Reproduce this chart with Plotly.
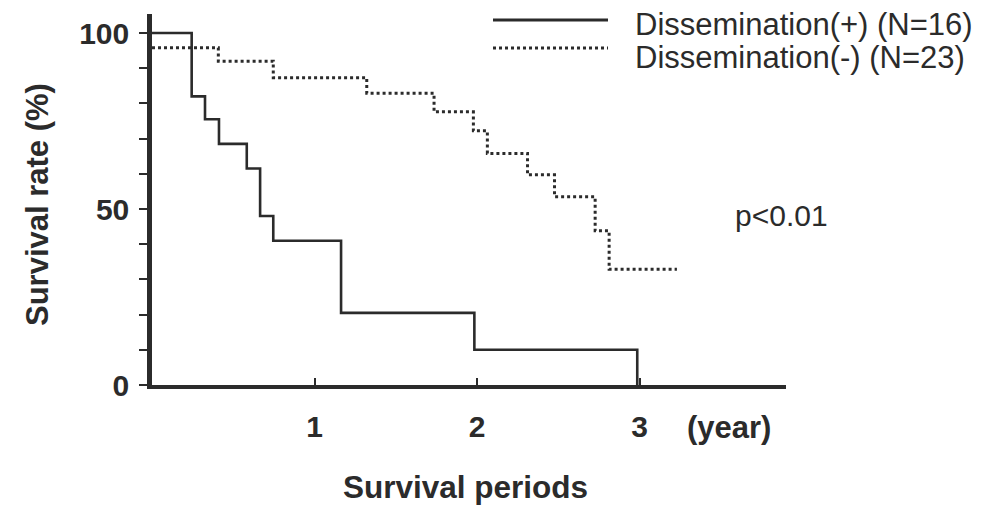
import plotly.graph_objects as go

# Kaplan-Meier survival estimates (years, % surviving)
pos_times = [0, 0.244, 0.326, 0.412, 0.583, 0.665, 0.746, 1.163, 1.983, 2.985]
pos_surv = [100, 82, 75.5, 68.5, 61.5, 48, 41, 20.5, 10, 0]

neg_times = [0, 0.408, 0.746, 1.321, 1.735, 1.977, 2.063, 2.31, 2.476, 2.726, 2.812, 3.229]
neg_surv = [95.8, 92, 87.3, 82.9, 77.6, 72.2, 65.8, 59.7, 53.5, 43.8, 32.9, 32.9]

series_names = ["Dissemination(+) (N=16)", "Dissemination(-) (N=23)"]

x_ticks = [1, 2, 3]
y_ticks = list(range(0, 101, 10))
y_labels = ["0" if v == 0 else "50" if v == 50 else "100" if v == 100 else "" for v in y_ticks]

INK = "#2b2b2b"
FONT = "Liberation Sans, Arial, Helvetica, sans-serif"

W, H = 988, 507
L, R, T, B = 152, 202, 14, 122
PW, PH = W - L - R, H - T - B

fig = go.Figure()
fig.add_trace(go.Scatter(
    x=pos_times, y=pos_surv, mode="lines", line_shape="hv",
    line=dict(color=INK, width=2.6), name=series_names[0], showlegend=False,
))
fig.add_trace(go.Scatter(
    x=neg_times, y=neg_surv, mode="lines", line_shape="hv",
    line=dict(color=INK, width=3, dash="3px,3px"), name=series_names[1], showlegend=False,
))

tick_font = dict(family=FONT, size=30, color=INK, weight="bold")

fig.update_xaxes(
    range=[0, 3.9], showgrid=False, zeroline=False,
    showline=True, linecolor=INK, linewidth=4,
    ticks="inside", ticklen=7, tickwidth=2, tickcolor=INK,
    tickvals=x_ticks, ticktext=[str(v) for v in x_ticks],
    tickfont=tick_font, ticklabelstandoff=12,
)
fig.update_yaxes(
    range=[0, 105.4], showgrid=False, zeroline=False,
    showline=True, linecolor=INK, linewidth=4.5,
    ticks="outside", ticklen=8, tickwidth=2, tickcolor=INK,
    tickvals=y_ticks, ticktext=y_labels,
    tickfont=tick_font, ticklabelstandoff=4,
)


def fx(p):
    return (p - L) / PW


def fy(p):
    return 1 - (p - T) / PH


# legend: line samples and labels
legend_rows = [(20, 24, None), (48, 57, "dot")]
for (ly, ty, dash), name in zip(legend_rows, series_names):
    fig.add_shape(
        type="line", xref="paper", yref="paper",
        x0=fx(493), x1=fx(608), y0=fy(ly), y1=fy(ly),
        line=dict(color=INK, width=2.8 if dash is None else 3,
                  dash="solid" if dash is None else "3px,3px"),
    )
    fig.add_annotation(
        text=name, xref="paper", yref="paper",
        x=fx(633), y=fy(ty),
        xanchor="left", yanchor="middle", showarrow=False,
        font=dict(family=FONT, size=31, color=INK),
    )

# axis titles and notes
fig.add_annotation(
    text="Survival rate (%)", textangle=-90, xref="paper", yref="paper",
    x=fx(37), y=fy(205),
    xanchor="center", yanchor="middle", showarrow=False,
    font=dict(family=FONT, size=31, color=INK, weight="bold"),
)
fig.add_annotation(
    text="Survival periods", xref="paper", yref="paper",
    x=fx(465), y=fy(487),
    xanchor="center", yanchor="middle", showarrow=False,
    font=dict(family=FONT, size=31.5, color=INK, weight="bold"),
)
fig.add_annotation(
    text="(year)", xref="paper", yref="paper",
    x=fx(685), y=fy(427),
    xanchor="left", yanchor="middle", showarrow=False,
    font=dict(family=FONT, size=31, color=INK, weight="bold"),
)
fig.add_annotation(
    text="p<0.01", xref="paper", yref="paper",
    x=fx(733), y=fy(215),
    xanchor="left", yanchor="middle", showarrow=False,
    font=dict(family=FONT, size=30, color=INK),
)

fig.update_layout(
    width=W, height=H, autosize=False,
    margin=dict(l=L, r=R, t=T, b=B, pad=0),
    paper_bgcolor="white", plot_bgcolor="white",
    showlegend=False,
)

fig.write_html("out.html")
